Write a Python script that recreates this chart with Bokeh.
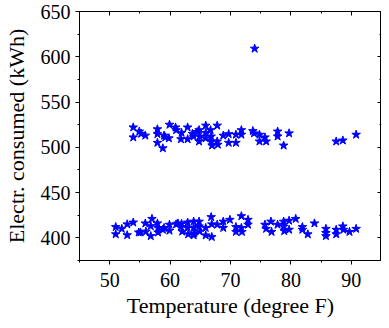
from bokeh.plotting import figure
from bokeh.models import (Range1d, LinearAxis, SingleIntervalTicker, ColumnDataSource,
                          CustomJSTickFormatter)
from bokeh.embed import file_html
from bokeh.resources import INLINE

# Upper cluster (temperature, kWh)
upper_temp = [53.9, 53.9, 54.9, 55.2, 55.9, 57.9, 57.9, 57.9, 58.8, 59.0, 59.2, 59.8, 59.9,
              60.9, 61.0, 61.8, 61.9, 62.9, 62.9, 63.7, 63.9, 64.5, 64.8, 64.8, 64.9,
              65.9, 65.9, 65.9, 66.7, 66.8, 66.95, 66.8, 67.8, 67.9, 67.8, 68.8,
              69.7, 69.7, 70.9, 70.9, 71.8, 71.8, 73.7, 73.9, 74.8, 74.8, 75.7, 75.9,
              77.8, 77.8, 78.8, 79.7, 87.5, 88.6, 90.8]
upper_kwh = [522, 511, 517.5, 515, 513, 520, 514.6, 505, 499, 513, 511, 510, 525,
             522, 519, 509, 516, 522, 509, 515, 512, 517, 519, 506.5, 512,
             524, 516, 510, 519, 506.5, 502, 512, 524, 503, 506.5, 513,
             514.6, 505, 514, 505, 519, 514, 518, 515.5, 514, 506.5, 511, 506.5,
             517.5, 512, 502, 515.5, 506.5, 507.6, 514]

# Lower cluster (temperature, kWh)
lower_temp = [51.0, 51.0, 52.0, 52.9, 52.9, 53.9, 54.8, 55.1, 55.9, 56.0, 57.0, 56.8, 56.8,
              57.9, 58.0, 58.0, 58.8, 59.0, 59.9, 59.9, 61.0, 61.3, 61.8, 61.9, 62.0,
              62.9, 63.0, 62.9, 63.9, 63.9, 64.0, 63.9, 64.8, 64.8, 64.9, 65.9, 65.9,
              66.8, 66.9, 66.9, 67.8, 68.8, 68.8, 69.9, 70.9, 70.9, 71.8, 71.8, 71.9,
              72.9, 72.9, 75.7, 75.9, 76.7, 76.8, 77.8, 78.8, 78.8, 78.9, 79.7, 79.7,
              80.8, 81.9, 81.9, 82.8, 83.9, 85.8, 85.8, 85.8, 87.5, 87.5, 88.6, 88.7,
              89.7, 90.8]
lower_kwh = [412, 404, 410, 415, 403, 417, 406, 406, 416, 407, 421, 413, 402,
             416, 411, 406, 409, 411, 414.6, 408, 415, 416, 412, 415.5, 407,
             411, 404, 417, 418, 411, 405, 402.8, 418, 412.7, 407, 411, 402.8,
             423, 415, 401, 414.6, 418, 411, 420, 412, 406.6, 424, 411, 406.6,
             420, 414.6, 414.6, 410, 418, 406.6, 414.6, 418, 412.5, 407.5, 419, 409,
             421, 412, 409, 404, 416, 410, 405.4, 402, 409, 404, 412.7, 409,
             406.6, 410]

outlier_temp = [74.0]
outlier_kwh = [609]

temps = upper_temp + lower_temp + outlier_temp
kwhs = upper_kwh + lower_kwh + outlier_kwh

FONT = "Liberation Serif"

p = figure(width=381, height=320, output_backend="svg", toolbar_location=None,
           x_range=Range1d(45, 95), y_range=Range1d(375, 650),
           min_border_left=74, min_border_top=11, min_border_right=0,
           min_border_bottom=60)
p.grid.visible = False
p.outline_line_color = "black"
p.outline_line_width = 1
p.background_fill_color = "white"
p.border_fill_color = "white"

src = ColumnDataSource(dict(x=temps, y=kwhs))
p.scatter("x", "y", source=src, marker="star", size=9,
          fill_color="#0000ff", line_color="#0000ff")

xt = SingleIntervalTicker(interval=10, num_minor_ticks=2)
yt = SingleIntervalTicker(interval=50, num_minor_ticks=2)

for ax, tk in ((p.xaxis[0], xt), (p.yaxis[0], yt)):
    ax.ticker = tk
    ax.major_label_text_font = FONT
    ax.major_label_text_font_size = "20px"
    ax.major_label_text_color = "black"
    ax.axis_label_text_font = FONT
    ax.axis_label_text_font_size = "22px"
    ax.axis_label_text_font_style = "normal"
    ax.axis_label_text_color = "black"
    ax.major_tick_out = 4
    ax.major_tick_in = 0
    ax.minor_tick_out = 2
    ax.minor_tick_in = 0
    ax.axis_line_color = "black"
    ax.major_tick_line_color = "black"
    ax.minor_tick_line_color = "black"

p.xaxis[0].axis_label = "Temperature (degree F)"
p.yaxis[0].axis_label = "Electr. consumed (kWh)"
p.xaxis[0].major_label_standoff = 8
p.xaxis[0].axis_label_standoff = 3
p.yaxis[0].major_label_standoff = 5
p.yaxis[0].axis_label_standoff = 9

# mirrored inward ticks on the top and right edges of the frame
top = LinearAxis(ticker=SingleIntervalTicker(interval=10, num_minor_ticks=2),
                 formatter=CustomJSTickFormatter(code="return '';"),
                 major_label_text_font_size="1px",
                 major_tick_in=4, major_tick_out=0,
                 minor_tick_in=2, minor_tick_out=0, major_label_standoff=0)
right = LinearAxis(ticker=SingleIntervalTicker(interval=50, num_minor_ticks=2),
                   formatter=CustomJSTickFormatter(code="return '';"),
                   major_label_text_font_size="1px",
                   major_tick_in=4, major_tick_out=0,
                   minor_tick_in=2, minor_tick_out=0, major_label_standoff=0)
p.add_layout(top, "above")
p.add_layout(right, "right")

open("out.html", "w").write(file_html(p, INLINE))
